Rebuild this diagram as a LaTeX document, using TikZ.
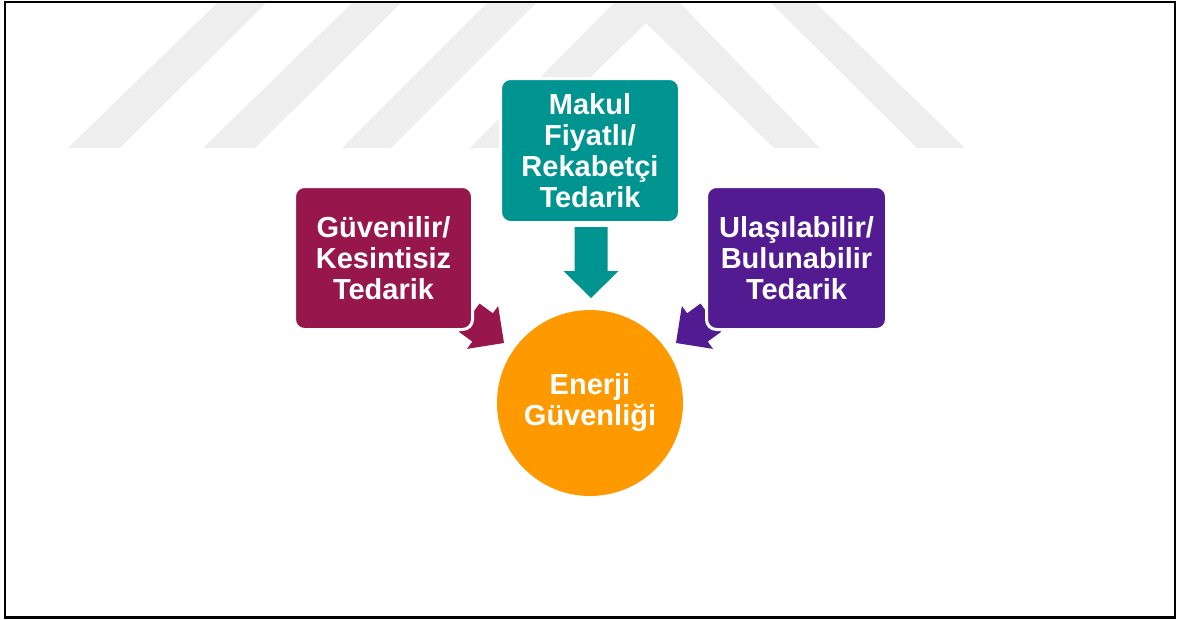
\documentclass[tikz,border=0pt]{standalone}
\usepackage{fontspec}
\setmainfont{Liberation Sans}
\definecolor{cmaroon}{HTML}{97174D}
\definecolor{cteal}{HTML}{009490}
\definecolor{cpurple}{HTML}{521B92}
\definecolor{corange}{HTML}{FF9900}
\definecolor{cwm}{HTML}{EEEEEE}
\begin{document}
\begin{tikzpicture}[x=1pt,y=-1pt,
  boxstyle/.style={draw=white, line width=3pt, rounded corners=10pt, inner sep=0pt,
    text=white, font=\bfseries\fontsize{29}{31}\selectfont, align=center},
  wm/.style={fill=cwm}
]
\useasboundingbox (0,0) rectangle (1178,619);
% watermark
\fill[wm] (218,2) -- (267,2) -- (120,148) -- (68,148) -- cycle;
\fill[wm] (353,2) -- (402,2) -- (255,148) -- (203,148) -- cycle;
\fill[wm] (488,2) -- (537,2) -- (391,148) -- (342,148) -- cycle;
\fill[wm] (470,148) -- (518,148) -- (646,23) -- (774,148) -- (820,148) -- (679,2) -- (615,2) -- cycle;
\fill[wm] (770,2) -- (815,2) -- (965,148) -- (917,148) -- cycle;
% block arrows
\fill[cteal, shift={(591,298)}, rotate=-90]
  (0,0) -- (-27,27.5) -- (-27,16.5) -- (-71,16.5) -- (-71,-16.5) -- (-27,-16.5) -- (-27,-27.5) -- cycle;
\fill[cmaroon, shift={(504,343)}, rotate=-36]
  (0,0) -- (-26.5,26.5) -- (-26.5,17.5) -- (-43,17.5) -- (-43,-17.5) -- (-26.5,-17.5) -- (-26.5,-26.5) -- cycle;
\fill[cpurple, shift={(676,343)}, rotate=216]
  (0,0) -- (-26.5,26.5) -- (-26.5,17.5) -- (-43,17.5) -- (-43,-17.5) -- (-26.5,-17.5) -- (-26.5,-26.5) -- cycle;
% boxes
\node[boxstyle, fill=cmaroon, minimum width=178pt, minimum height=143pt] (guv) at (383.5,258)
  {Güvenilir/\\Kesintisiz\\Tedarik};
\node[boxstyle, fill=cteal, minimum width=179pt, minimum height=144pt] (mak) at (590,150.5)
  {Makul\\Fiyatlı/\\Rekabetçi\\Tedarik};
\node[boxstyle, fill=cpurple, minimum width=180pt, minimum height=143pt] (ula) at (796.5,258)
  {Ulaşılabilir/\\Bulunabilir\\Tedarik};
% circle
\node[circle, fill=corange, minimum size=186pt, inner sep=0pt, text=white,
  font=\bfseries\fontsize{29}{31}\selectfont, align=center] (enerji) at (590,403)
  {Enerji\\Güvenliği};
% frame
\draw[line width=2.5pt] (5,2) rectangle (1175,617.5);
\end{tikzpicture}
\end{document}
